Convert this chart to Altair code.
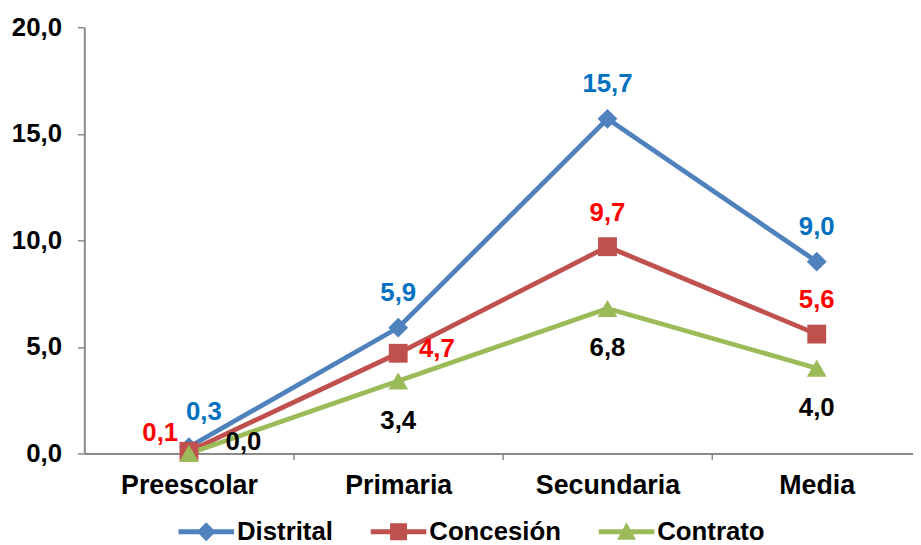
import json
import altair as alt
import pandas as pd

# ---------------- data ----------------
categories = ["Preescolar", "Primaria", "Secundaria", "Media"]
series = ["Distrital", "Concesión", "Contrato"]
distrital = [0.3, 5.9, 15.7, 9.0]
concesion = [0.1, 4.7, 9.7, 5.6]
contrato = [0.0, 3.4, 6.8, 4.0]
y_ticks = [0, 5, 10, 15, 20]

# ---------------- styles ----------------
FONT = "Liberation Sans"
line_colors = ["#4F81BD", "#C0504D", "#9BBB59"]
label_colors = ["#0070C0", "#FF0000", "#000000"]
marker_shapes = ["diamond", "square", "triangle-up"]
marker_sizes = [400, 361, 400]
# legend symbols: line segment + marker (unit path coordinates)
legend_paths = [
    "M-2.95,-0.26H2.95V0.26H-2.95Z M0,-1L1,0L0,1L-1,0Z",
    "M-2.95,-0.26H2.95V0.26H-2.95Z M-0.9,-0.9H0.9V0.9H-0.9Z",
    "M-2.95,-0.26H2.95V0.26H-2.95Z M0,-1L1,0.85L-1,0.85Z",
]
# data label offsets (dx, dy) in pixels per series, with per-point exceptions
default_offsets = {"Distrital": (0, -35), "Concesión": (0, -34), "Contrato": (0, 40)}
special_offsets = {
    ("Distrital", "Preescolar"): (15, -35),
    ("Concesión", "Preescolar"): (-29, -18),
    ("Concesión", "Primaria"): (39, -4),
    ("Contrato", "Preescolar"): (55, -11),
}

rows = []
for s, vals in zip(series, [distrital, concesion, contrato]):
    for i, (c, v) in enumerate(zip(categories, vals)):
        rows.append({"serie": s, "cat": c, "pos": i + 0.5, "valor": v})
df = pd.DataFrame(rows)

PLOT_W, PLOT_H = 836, 430
x_scale = alt.Scale(domain=[0, 3.96], nice=False, zero=False)
y_scale = alt.Scale(domain=[y_ticks[0], y_ticks[-1]], nice=False)
color_scale = alt.Scale(domain=series, range=line_colors)

x_values = sorted(set([i + 0.5 for i in range(len(categories))] + list(range(1, len(categories)))))
x_label_expr = (
    "datum.value % 1 === 0 ? '' : " + json.dumps(categories) + "[floor(datum.value)]"
)

x_enc = alt.X(
    "pos:Q",
    scale=x_scale,
    axis=alt.Axis(
        title=None,
        values=x_values,
        labelExpr=x_label_expr,
        labelOverlap=False,
        labelFlush=False,
        labelBound=False,
        grid=False,
        tickSize=6,
        tickOpacity={"condition": {"test": "datum.value % 1 === 0", "value": 1}, "value": 0},
        labelPadding=13,
        labelFontSize=27,
    ),
)
y_enc = alt.Y(
    "valor:Q",
    scale=y_scale,
    axis=alt.Axis(
        title=None,
        values=y_ticks,
        labelExpr="replace(format(datum.value, '.1f'), '.', ',')",
        grid=False,
        tickSize=7,
        labelPadding=16,
        labelFontSize=26,
    ),
)

base = alt.Chart(df)

layers = []
for s, col in zip(series, line_colors):
    layers.append(
        base.transform_filter(alt.datum.serie == s)
        .mark_line(strokeWidth=4.8, color=col)
        .encode(x=x_enc, y=y_enc)
    )

for s, shp, col, sz in zip(series, marker_shapes, line_colors, marker_sizes):
    layers.append(
        base.transform_filter(alt.datum.serie == s)
        .mark_point(shape=shp, filled=True, size=sz, opacity=1, color=col, strokeWidth=0)
        .encode(x="pos:Q", y="valor:Q")
    )

for s, tcol in zip(series, label_colors):
    for c in categories:
        dx, dy = special_offsets.get((s, c), default_offsets[s])
        layers.append(
            base.transform_filter((alt.datum.serie == s) & (alt.datum.cat == c))
            .transform_calculate(etiqueta="replace(format(datum.valor, '.1f'), '.', ',')")
            .mark_text(
                font=FONT,
                fontSize=26,
                fontWeight="bold",
                color=tcol,
                dx=dx,
                dy=dy,
                align="center",
                baseline="middle",
            )
            .encode(x="pos:Q", y="valor:Q", text="etiqueta:N")
        )

legend_kw = dict(
    title=None,
    orient="none",
    legendX=110,
    legendY=496,
    direction="horizontal",
    symbolSize=361,
    symbolStrokeWidth=0,
    symbolOpacity=1,
    labelFont=FONT,
    labelFontSize=26,
    labelFontWeight="bold",
    labelColor="#000000",
    labelOffset=18,
    columnPadding=37,
    padding=0,
)
legend_layer = (
    base.transform_filter("false")
    .mark_point(filled=True, opacity=1, strokeWidth=0)
    .encode(
        x="pos:Q",
        y="valor:Q",
        color=alt.Color("serie:N", scale=color_scale, legend=alt.Legend(**legend_kw)),
        shape=alt.Shape(
            "serie:N",
            scale=alt.Scale(domain=series, range=legend_paths),
            legend=alt.Legend(**legend_kw),
        ),
    )
)
layers.append(legend_layer)

chart = (
    alt.layer(*layers)
    .properties(
        width=PLOT_W,
        height=PLOT_H,
        autosize=alt.AutoSizeParams(type="none"),
        padding={"left": 77, "top": 17, "right": 0, "bottom": 90},
    )
    .configure_view(stroke=None)
    .configure_axis(
        labelFont=FONT,
        labelFontWeight="bold",
        labelColor="#000000",
        domainColor="#8A8A8A",
        domainWidth=2,
        tickColor="#8A8A8A",
        tickWidth=1.5,
    )
)

chart.save("out.html", embed_options={"renderer": "svg", "actions": False})
